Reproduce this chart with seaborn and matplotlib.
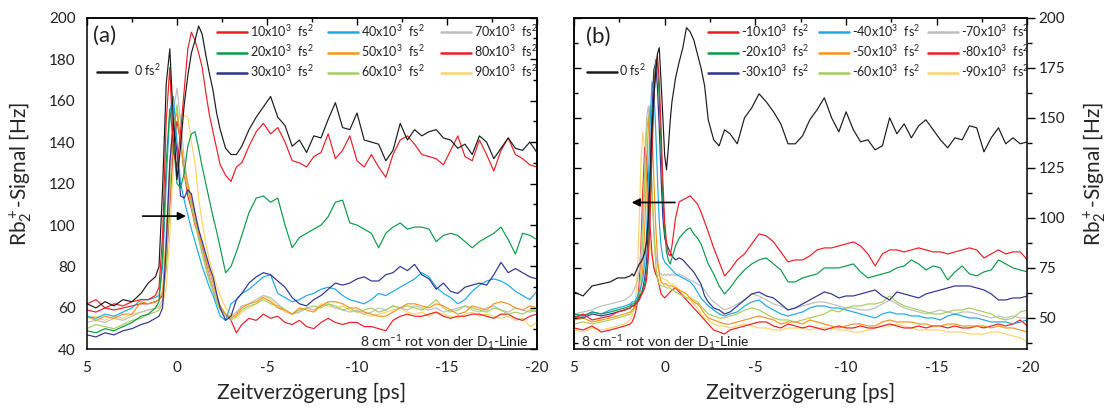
import matplotlib
matplotlib.use("Agg")
import matplotlib.pyplot as plt
import seaborn as sns
from matplotlib.ticker import MultipleLocator, NullFormatter
from matplotlib.legend import Legend

# ---------------- data: panel (a), positive chirp ----------------
T_A = [5.0, 4.5, 4.0, 3.5, 3.0, 2.5, 2.0, 1.6, 1.2, 1.0,
       0.8, 0.6, 0.4, 0.2, 0.0, -0.2, -0.4, -0.6, -0.8, -1.0, -1.2, -1.4, -1.6, -1.8, -2.0, -2.2, -2.4,
       -2.7, -3.0, -3.3, -3.6,
       -4.0, -4.4, -4.8, -5.2, -5.6, -6.0, -6.4, -6.8, -7.2, -7.6, -8.0, -8.4, -8.8, -9.2, -9.6,
       -10.0, -10.4, -10.8, -11.2, -11.6, -12.0, -12.4, -12.8, -13.2, -13.6, -14.0, -14.4, -14.8,
       -15.2, -15.6, -16.0, -16.4, -16.8, -17.2, -17.6, -18.0, -18.4, -18.8, -19.2, -19.6, -20.0]

A_0 = [62, 60, 63, 61, 64, 63, 67, 72, 75, 80,
       118, 168, 185, 150, 122, 138, 158, 172, 183, 189, 196, 192, 182, 173, 165, 154, 146,
       137, 134, 134, 138,
       146, 152, 157, 162, 152, 148, 138, 141, 135, 143, 142, 151, 159, 147, 146, 154, 141, 140, 139, 131,
       136, 149, 141, 146, 143, 145, 146, 142, 141, 137, 139, 134, 143, 140, 132, 137, 142, 137, 136, 140, 135]
A_10 = [62, 64, 60, 62, 61, 63, 64, 64, 66, 70,
        95, 150, 176, 135, 128, 145, 165, 185, 193, 189, 183, 176, 164, 153, 145, 137, 129,
        124, 121, 128, 130,
        138, 145, 149, 144, 147, 140, 131, 130, 128, 133, 135, 144, 132, 136, 143, 131, 128, 134, 128, 123,
        134, 141, 143, 139, 134, 133, 132, 129, 136, 143, 133, 131, 141, 134, 126, 136, 142, 134, 132, 129, 128]
A_20 = [49, 48, 50, 49, 51, 53, 56, 57, 60, 63,
        85, 130, 156, 140, 120, 118, 125, 138, 144, 145, 137, 128, 120, 112, 104, 97, 89,
        77, 80, 87, 95,
        106, 113, 114, 111, 113, 100, 89, 94, 96, 98, 100, 104, 111, 112, 101, 100, 98, 96, 89, 96,
        99, 101, 98, 99, 99, 98, 92, 95, 96, 95, 92, 89, 92, 94, 96, 99, 93, 86, 96, 95, 93]
A_30 = [47, 46, 48, 47, 49, 50, 52, 53, 55, 56,
        60, 90, 130, 150, 135, 114, 113, 117, 115, 106, 98, 92, 86, 80, 75, 67, 60,
        54, 56, 64, 67,
        72, 75, 77, 76, 73, 70, 65, 62, 61, 64, 66, 69, 72, 71, 72, 74, 75, 73, 73, 76,
        77, 80, 78, 81, 76, 74, 69, 72, 68, 67, 70, 71, 72, 71, 76, 82, 77, 79, 77, 75, 74]
A_40 = [56, 55, 57, 56, 58, 60, 64, 64, 65, 66,
        80, 120, 155, 162, 140, 120, 112, 105, 98, 92, 86, 80, 75, 70, 66, 61, 56,
        54, 62, 64, 67,
        69, 72, 75, 76, 67, 65, 63, 64, 66, 67, 69, 70, 69, 66, 64, 63, 62, 64, 67, 66,
        68, 70, 72, 74, 77, 75, 70, 67, 65, 62, 64, 68, 71, 73, 74, 73, 71, 68, 66, 64, 68]
A_50 = [56, 54, 56, 55, 57, 57, 63, 62, 63, 64,
        68, 95, 130, 150, 154, 140, 128, 120, 112, 104, 96, 90, 84, 78, 72, 66, 61,
        57, 55, 57, 60,
        62, 63, 65, 63, 60, 59, 57, 60, 59, 58, 61, 63, 63, 62, 60, 60, 58, 57, 56, 56,
        58, 60, 62, 62, 61, 60, 62, 61, 59, 57, 58, 61, 60, 59, 62, 63, 62, 60, 59, 61, 60]
A_60 = [50, 52, 51, 50, 52, 54, 55, 57, 58, 59,
        62, 80, 115, 145, 158, 140, 125, 117, 109, 101, 93, 86, 79, 73, 68, 63, 59,
        56, 54, 56, 59,
        61, 62, 64, 62, 61, 59, 57, 59, 60, 61, 60, 62, 61, 59, 60, 58, 59, 60, 58, 59,
        61, 60, 61, 60, 59, 61, 64, 60, 58, 59, 61, 60, 59, 58, 60, 59, 57, 58, 57, 59, 58]
A_70 = [53, 54, 53, 55, 54, 56, 58, 59, 60, 61,
        64, 85, 125, 155, 166, 150, 132, 120, 110, 102, 95, 88, 81, 75, 69, 64, 60,
        57, 56, 58, 61,
        62, 64, 66, 65, 62, 59, 57, 58, 60, 59, 61, 62, 60, 59, 58, 59, 57, 58, 60, 59,
        61, 60, 59, 61, 60, 59, 60, 58, 59, 60, 61, 59, 58, 60, 61, 59, 58, 60, 59, 58, 59]
A_80 = [59, 58, 60, 59, 60, 61, 62, 62, 63, 64,
        66, 80, 110, 140, 150, 140, 125, 114, 108, 100, 95, 89, 82, 75, 69, 64, 60,
        57, 54, 48, 52,
        55, 54, 57, 55, 56, 53, 52, 54, 51, 50, 53, 55, 53, 52, 53, 53, 51, 51, 50, 49,
        54, 56, 57, 56, 56, 57, 58, 56, 55, 56, 56, 57, 57, 56, 55, 57, 57, 55, 54, 56, 57]
A_90 = [55, 56, 54, 56, 55, 57, 58, 59, 60, 60,
        62, 70, 95, 130, 150, 153, 153, 152, 140, 130, 113, 101, 91, 83, 77, 71, 66,
        60, 57, 55, 58,
        60, 62, 66, 64, 61, 58, 57, 58, 60, 59, 62, 61, 60, 61, 59, 58, 57, 56, 57, 58,
        59, 60, 58, 57, 58, 56, 58, 57, 56, 55, 57, 58, 56, 57, 56, 55, 56, 54, 55, 51, 53]

# ---------------- data: panel (b), negative chirp ----------------
T_B = [5.0, 4.5, 4.0, 3.5, 3.0, 2.6, 2.2,
       1.9, 1.8, 1.7, 1.6, 1.5, 1.4, 1.3, 1.2, 1.1, 1.0, 0.9, 0.8, 0.7, 0.6, 0.5, 0.4, 0.3, 0.2, 0.1,
       0.0, -0.1, -0.2, -0.3, -0.4,
       -0.6, -0.8, -1.0, -1.2, -1.4, -1.6, -1.8, -2.0, -2.2, -2.4,
       -2.7, -3.0, -3.3, -3.6,
       -4.0, -4.4, -4.8, -5.2, -5.6, -6.0, -6.4, -6.8, -7.2, -7.6, -8.0, -8.4, -8.8, -9.2, -9.6,
       -10.0, -10.4, -10.8, -11.2, -11.6, -12.0, -12.4, -12.8, -13.2, -13.6, -14.0, -14.4, -14.8,
       -15.2, -15.6, -16.0, -16.4, -16.8, -17.2, -17.6, -18.0, -18.4, -18.8, -19.2, -19.6, -20.0]

B_0 = [63, 61, 66, 67, 68, 70, 70,
       71, 72, 71, 73, 75, 77, 78, 80, 83, 88, 101, 122, 145, 160, 172, 182, 185, 168, 150,
       131, 124, 135, 148, 158,
       170, 178, 185, 195, 193, 189, 182, 175, 166, 149,
       139, 136, 144, 142,
       137, 150, 155, 162, 158, 153, 147, 137, 137, 141, 149, 154, 160, 150, 143,
       153, 144, 138, 139, 134, 136, 150, 142, 147, 140, 146, 149, 144, 139, 135,
       140, 139, 146, 145, 133, 140, 145, 137, 140, 137, 138]
B_10 = [50, 52, 49, 50, 51, 53, 54,
        55, 56, 56, 57, 58, 59, 61, 63, 65, 69, 80, 102, 132, 158, 176, 181, 168, 145, 118,
        98, 88, 82, 81, 86,
        100, 108, 109, 110, 111, 109, 107, 103, 98, 93,
        85, 78, 71, 74,
        79, 82, 87, 92, 91, 88, 83, 78, 79, 79, 81, 84, 85, 85, 86,
        87, 88, 86, 82, 76, 82, 84, 84, 83, 84, 85, 84, 83, 83, 82,
        83, 84, 85, 84, 80, 82, 84, 82, 83, 83, 79]
B_20 = [52, 51, 53, 52, 53, 54, 55,
        56, 57, 57, 58, 59, 61, 62, 64, 67, 72, 85, 108, 138, 163, 179, 177, 160, 135, 110,
        93, 83, 79, 77, 80,
        86, 90, 92, 94, 95, 92, 90, 87, 82, 77,
        72, 66, 62, 65,
        70, 74, 77, 79, 80, 77, 74, 68, 68, 70, 71, 72, 75, 75, 75,
        76, 77, 73, 70, 71, 72, 73, 75, 76, 79, 77, 74, 76, 75, 69,
        73, 76, 72, 71, 73, 74, 79, 77, 75, 74, 73]
B_30 = [51, 50, 52, 51, 52, 53, 54,
        55, 56, 56, 57, 58, 60, 62, 65, 70, 78, 95, 122, 152, 174, 177, 165, 145, 120, 100,
        90, 87, 85, 83, 81,
        79, 80, 79, 77, 75, 73, 70, 67, 61, 58,
        55, 54, 52, 53,
        56, 59, 62, 63, 61, 60, 57, 54, 55, 57, 59, 61, 63, 62, 60,
        61, 61, 62, 63, 64, 61, 59, 63, 62, 61, 60, 62, 63, 64, 65,
        66, 66, 66, 65, 64, 62, 59, 59, 60, 60, 61]
B_40 = [52, 51, 53, 52, 54, 55, 56,
        57, 58, 58, 59, 61, 63, 66, 70, 78, 92, 118, 148, 168, 164, 145, 120, 98, 86, 80,
        78, 77, 76, 75, 74,
        72, 71, 70, 69, 68, 66, 63, 60, 58, 56,
        54, 52, 51, 52,
        53, 56, 58, 59, 56, 54, 52, 51, 52, 53, 55, 56, 56, 55, 55,
        54, 53, 52, 51, 50, 52, 53, 52, 52, 51, 51, 50, 50, 49, 51,
        52, 51, 50, 50, 49, 48, 48, 48, 47, 48, 49]
B_50 = [49, 50, 48, 49, 50, 51, 52,
        53, 54, 55, 56, 58, 61, 66, 76, 95, 122, 146, 156, 144, 120, 97, 80, 72, 68, 67,
        67, 67, 66, 66, 66,
        65, 64, 63, 62, 60, 58, 57, 55, 52, 50,
        49, 48, 47, 47,
        48, 49, 50, 51, 50, 49, 47, 48, 48, 47, 49, 48, 47, 46, 45,
        46, 47, 47, 46, 46, 48, 49, 48, 48, 48, 47, 47, 46, 46, 47,
        47, 46, 46, 46, 46, 45, 46, 45, 45, 44, 43]
B_60 = [47, 48, 47, 48, 49, 50, 51,
        52, 53, 54, 56, 59, 64, 74, 92, 118, 143, 151, 138, 114, 92, 77, 70, 67, 66, 66,
        66, 65, 65, 65, 64,
        63, 62, 61, 60, 60, 59, 58, 56, 54, 52,
        51, 50, 50, 51,
        52, 54, 55, 54, 52, 50, 49, 49, 48, 49, 50, 51, 52, 54, 53,
        55, 56, 56, 57, 57, 58, 61, 58, 56, 55, 54, 53, 52, 52, 53,
        54, 54, 55, 54, 53, 52, 50, 49, 50, 53, 54]
B_70 = [52, 53, 54, 56, 57, 58, 59,
        61, 62, 64, 66, 69, 74, 84, 102, 126, 150, 156, 140, 115, 95, 82, 76, 73, 72, 71,
        72, 71, 72, 71, 72,
        71, 72, 71, 70, 69, 68, 67, 66, 64, 61,
        58, 56, 54, 55,
        57, 59, 62, 61, 59, 57, 56, 54, 55, 56, 57, 58, 58, 57, 56,
        55, 55, 54, 54, 55, 57, 59, 57, 55, 54, 53, 52, 53, 54, 53,
        52, 53, 53, 52, 51, 50, 51, 50, 51, 50, 50]
B_80 = [45, 44, 46, 43, 44, 45, 46,
        47, 48, 50, 53, 58, 68, 88, 115, 135, 130, 112, 95, 82, 75, 72, 70, 66, 62, 61,
        60, 61, 62, 63, 64,
        65, 63, 61, 59, 57, 55, 53, 51, 49, 47,
        44, 43, 42, 44,
        45, 46, 47, 48, 48, 46, 45, 47, 46, 45, 46, 45, 44, 45, 46,
        45, 45, 46, 45, 45, 46, 47, 46, 45, 45, 46, 45, 46, 46, 45,
        46, 45, 45, 46, 45, 46, 47, 46, 47, 49, 46]
B_90 = [44, 43, 45, 44, 45, 46, 47,
        49, 51, 54, 60, 75, 100, 130, 143, 132, 110, 95, 86, 80, 76, 74, 72, 71, 70, 70,
        69, 69, 68, 67, 67,
        66, 64, 62, 60, 59, 57, 55, 52, 50, 49,
        47, 46, 46, 45,
        46, 47, 46, 45, 45, 44, 44, 45, 45, 45, 44, 45, 45, 45, 44,
        44, 43, 43, 44, 45, 46, 46, 47, 46, 45, 44, 44, 44, 44, 43,
        43, 43, 42, 42, 42, 43, 43, 42, 41, 40, 38]

CHIRPS_A = ["10", "20", "30", "40", "50", "60", "70", "80", "90"]
CHIRPS_B = ["-10", "-20", "-30", "-40", "-50", "-60", "-70", "-80", "-90"]
SERIES_A = [A_10, A_20, A_30, A_40, A_50, A_60, A_70, A_80, A_90]
SERIES_B = [B_10, B_20, B_30, B_40, B_50, B_60, B_70, B_80, B_90]
COLORS = ["#ed1c24", "#0a9a47", "#2e3192", "#1ca9e1", "#f7941d",
          "#a6ce5a", "#bcbec0", "#ed1c24", "#fdd467"]
BLACK = "#1a1a1a"

# ---------------- style ----------------
sns.set_theme(style="white")
plt.rcParams["font.family"] = ["Lato", "DejaVu Sans"]
plt.rcParams.update({
    "mathtext.fontset": "custom",
    "mathtext.rm": "Lato",
    "mathtext.it": "Lato:italic",
    "mathtext.bf": "Lato:bold",
    "axes.unicode_minus": False,
    "axes.edgecolor": "black",
    "axes.linewidth": 1.1,
    "text.color": "#231f20",
    "xtick.color": "black",
    "ytick.color": "black",
    "xtick.labelcolor": "#231f20",
    "ytick.labelcolor": "#231f20",
})

fig = plt.figure(figsize=(11.11, 4.09), dpi=100)
axA = fig.add_axes([0.07831, 0.14572, 0.40504, 0.81100])
axB = fig.add_axes([0.51665, 0.14572, 0.40819, 0.81100])


def draw_panel(ax, t, black, series):
    handles = []
    for vals, col in zip(series[::-1], COLORS[::-1]):
        sns.lineplot(x=t, y=vals, ax=ax, color=col, linewidth=0.85,
                     estimator=None, sort=False, legend=False)
        handles.append(ax.lines[-1])
    sns.lineplot(x=t, y=black, ax=ax, color=BLACK, linewidth=0.85,
                 estimator=None, sort=False, legend=False)
    return handles[::-1], ax.lines[-1]


def tick_setup(ax, ymaj, ymin):
    ax.xaxis.set_major_locator(MultipleLocator(5))
    ax.xaxis.set_minor_locator(MultipleLocator(2.5))
    ax.yaxis.set_major_locator(MultipleLocator(ymaj))
    ax.yaxis.set_minor_locator(MultipleLocator(ymin))
    ax.tick_params(which="major", length=6, width=1.0, labelsize=11, pad=2)
    ax.tick_params(which="minor", length=3.5, width=1.0)


def make_legend(ax, handles, labels, anchor, textpad):
    leg = Legend(ax, handles, labels, loc="center left", bbox_to_anchor=anchor,
                 frameon=False, fontsize=9, handlelength=2.4,
                 handletextpad=textpad, labelspacing=0.35,
                 borderpad=0, borderaxespad=0)
    for ln in leg.get_lines():
        ln.set_linewidth(1.8)
    ax.add_artist(leg)


def add_legends(ax, handles, black_handle, labels, xs, y_mid, x0, y0, pad0):
    for c in range(3):
        make_legend(ax, handles[3 * c:3 * c + 3], labels[3 * c:3 * c + 3],
                    (xs[c], y_mid), 0.25)
    make_legend(ax, [black_handle], [r"0 fs$^2$"], (x0, y0), pad0)


def inner_ticks(sec, maj, mnr, axis):
    a = sec.xaxis if axis == "x" else sec.yaxis
    a.set_major_locator(MultipleLocator(maj))
    a.set_minor_locator(MultipleLocator(mnr))
    a.set_major_formatter(NullFormatter())
    sec.tick_params(which="major", direction="in", length=5, width=1.0)
    sec.tick_params(which="minor", direction="in", length=3, width=1.0)


LABEL_NOTE = r"8 cm$^{-1}$ rot von der D$_1$-Linie"

# ---------------- panel (a) ----------------
hA, bA = draw_panel(axA, T_A, A_0, SERIES_A)
axA.set_xlim(5, -20)
axA.set_ylim(40, 200)
tick_setup(axA, 20, 10)
axA.tick_params(direction="out", top=False, right=False)
inner_ticks(axA.secondary_xaxis("top"), 5, 2.5, "x")
inner_ticks(axA.secondary_yaxis("right"), 20, 10, "y")
axA.set_xlabel("Zeitverzögerung [ps]", fontsize=15, labelpad=6)
axA.set_ylabel(r"Rb$_2^+$-Signal [Hz]", fontsize=15)
axA.yaxis.set_label_coords(-0.118, 0.529)
axA.text(0.0133, 0.945, "(a)", transform=axA.transAxes, fontsize=16, va="center", ha="left")
axA.text(0.982, 0.008, LABEL_NOTE, transform=axA.transAxes,
         fontsize=10, ha="right", va="baseline")
axA.annotate("", xy=(-0.5, 104.3), xytext=(1.91, 104.3),
             arrowprops=dict(arrowstyle="-|>", color="black", lw=1.2,
                             mutation_scale=12, shrinkA=0, shrinkB=0))
labelsA = [r"%sx10$^3$  fs$^2$" % c for c in CHIRPS_A]
add_legends(axA, hA, bA, labelsA, [0.2889, 0.5356, 0.7867], 0.8996, 0.0222, 0.8423, 0.6)

# ---------------- panel (b) ----------------
hB, bB = draw_panel(axB, T_B, B_0, SERIES_B)
axB.set_xlim(5, -20)
axB.set_ylim(34.3, 200)
tick_setup(axB, 25, 12.5)
axB.yaxis.tick_right()
axB.yaxis.set_label_position("right")
axB.tick_params(direction="out", top=False, left=False)
inner_ticks(axB.secondary_xaxis("top"), 5, 2.5, "x")
inner_ticks(axB.secondary_yaxis("left"), 25, 12.5, "y")
axB.set_xlabel("Zeitverzögerung [ps]", fontsize=15, labelpad=6)
axB.set_ylabel(r"Rb$_2^+$-Signal [Hz]", fontsize=15, rotation=90)
axB.yaxis.set_label_coords(1.118, 0.529)
axB.text(0.0265, 0.942, "(b)", transform=axB.transAxes, fontsize=16, va="center", ha="left")
axB.text(0.0148, 0.008, LABEL_NOTE, transform=axB.transAxes,
         fontsize=10, ha="left", va="baseline")
axB.annotate("", xy=(1.82, 107.7), xytext=(-0.57, 107.7),
             arrowprops=dict(arrowstyle="-|>", color="black", lw=1.2,
                             mutation_scale=12, shrinkA=0, shrinkB=0))
labelsB = [r"%sx10$^3$  fs$^2$" % c for c in CHIRPS_B]
add_legends(axB, hB, bB, labelsB, [0.2955, 0.5402, 0.7806], 0.8996, 0.0287, 0.8423, 0.15)

for ax in (axA, axB):
    for s in ax.spines.values():
        s.set_linewidth(1.1)
        s.set_color("black")

fig.savefig("out.png", dpi=100, facecolor="white")
